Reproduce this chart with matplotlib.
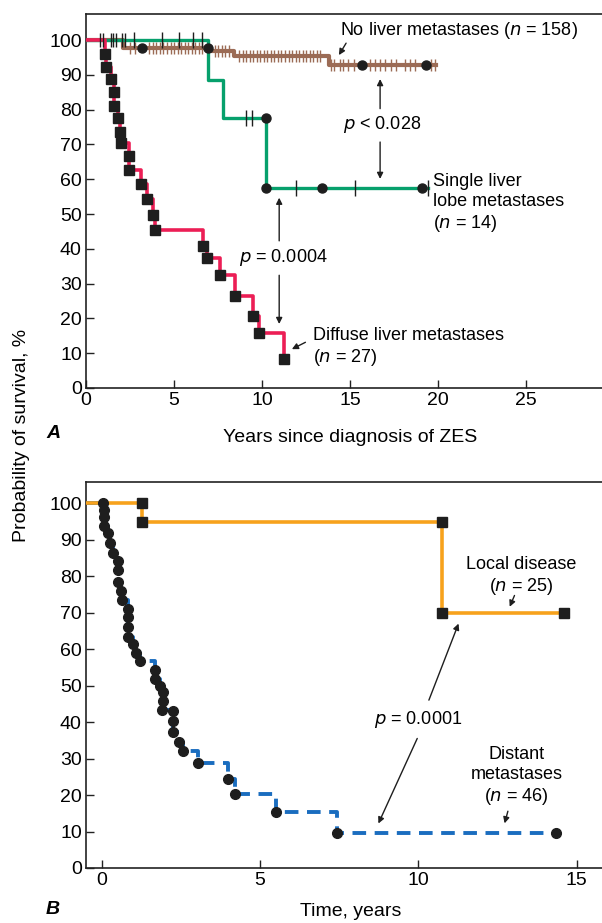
import matplotlib
matplotlib.use("Agg")
import matplotlib.pyplot as plt
import numpy as np

plt.rcParams['font.family'] = ['Liberation Sans', 'DejaVu Sans']

# ---------------- Panel A data ----------------
# No liver metastases (n = 158)
brown_t = [0.0, 2.1, 7.1, 8.4, 13.8, 19.9]
brown_s = [100, 97.7, 97.0, 95.4, 92.8, 92.8]
brown_dot_t = [3.2, 6.9, 15.7, 19.3]
brown_dot_s = [97.7, 97.7, 92.8, 92.8]
brown_cens_t = [2.5, 2.8, 3.6, 3.8, 4.0, 4.2, 4.4, 4.6, 4.8, 5.0, 5.2, 5.4, 5.6, 5.8, 6.0, 6.2, 6.4, 6.6,
                7.3, 7.5, 7.7, 7.9, 8.1,
                8.7, 8.9, 9.1, 9.3, 9.5, 9.7, 9.9, 10.1, 10.3, 10.5, 10.7, 10.9, 11.1, 11.3, 11.5,
                11.7, 11.9, 12.1, 12.3, 12.5, 12.7, 12.9, 13.1, 13.3,
                13.9, 14.1, 14.4, 14.6, 14.9, 15.2, 16.1, 16.4, 16.7, 17.0, 17.3, 17.6, 18.1, 18.4, 18.7, 19.6, 19.8]
brown_cens_s = [97.7] * 18 + [97.0] * 5 + [95.4] * 24 + [92.8] * 17
top_cens_t = [0.8, 0.95, 1.4, 1.55, 1.7, 2.05, 2.2]

# Single liver lobe metastases (n = 14)
green_t = [0.0, 6.9, 7.8, 10.2, 19.4]
green_s = [100, 88.5, 77.6, 57.5, 57.5]
green_dot_t = [10.2, 10.2, 13.4, 19.1]
green_dot_s = [77.6, 57.5, 57.5, 57.5]
green_cens_t = [2.7, 4.3, 5.3, 6.1, 6.6, 9.1, 9.4, 11.9, 15.3, 19.4]
green_cens_s = [100, 100, 100, 100, 100, 77.6, 77.6, 57.5, 57.5, 57.5]

# Diffuse liver metastases (n = 27)
red_t = [1.08, 1.14, 1.42, 1.61, 1.61, 1.80, 1.93, 1.99, 2.42, 2.42, 3.10, 3.48, 3.83, 3.94,
         6.67, 6.86, 7.61, 8.47, 9.50, 9.85, 11.27]
red_s = [95.9, 92.3, 88.7, 85.0, 81.0, 77.5, 73.7, 70.3, 66.7, 62.6, 58.5, 54.4, 49.7, 45.4,
         40.9, 37.3, 32.5, 26.5, 20.7, 15.7, 8.2]

# ---------------- Panel B data ----------------
# Local disease (n = 25)
orange_t = [1.26, 1.26, 10.75, 10.75, 14.6]
orange_s = [100, 94.7, 94.7, 69.8, 69.8]

# Distant metastases (n = 46)
blue_t = [0.04, 0.07, 0.07, 0.07, 0.20, 0.25, 0.35, 0.50, 0.50, 0.50, 0.59, 0.64, 0.83, 0.83, 0.83,
          0.83, 0.97, 1.07, 1.22, 1.68, 1.68, 1.84, 1.94, 1.92, 1.90, 2.26, 2.26, 2.26, 2.43, 2.55,
          3.05, 3.97, 4.21, 5.51, 7.43, 14.34]
blue_s = [100.0, 98.2, 96.2, 93.8, 91.9, 89.1, 86.4, 84.1, 81.6, 78.4, 75.9, 73.4, 70.9, 68.7, 66.1,
          63.4, 61.3, 59.0, 56.7, 54.4, 51.7, 49.9, 48.3, 45.8, 43.3, 43.0, 40.4, 37.2, 34.6, 32.1,
          28.9, 24.5, 20.4, 15.4, 9.7, 9.7]

yticks = list(range(0, 101, 10))
xticksA = [0, 5, 10, 15, 20, 25]
xticksB = [0, 5, 10, 15]

BROWN = '#9b6b55'
GREEN = '#06a06c'
RED = '#ec1e55'
ORANGE = '#f7a21c'
BLUE = '#1a6dbf'
BLK = '#1e1e1e'
FS = 13
FSL = 14

fig = plt.figure(figsize=(6.02, 9.23), dpi=100)
axA = fig.add_axes([86/602, 1-388/923, 1-86/602, (388-14)/923])
axB = fig.add_axes([86/602, 1-868/923, 1-86/602, (868-482)/923])

for ax in (axA, axB):
    ax.spines['right'].set_visible(False)
    for s in ('left', 'bottom', 'top'):
        ax.spines[s].set_linewidth(1.2)
        ax.spines[s].set_color('#222222')
    ax.tick_params(direction='in', length=6, width=1.0, labelsize=FSL, color='#222222', pad=3)
    ax.set_yticks(yticks)

# ---- Panel A ----
axA.set_xlim(0, 29.3)
axA.set_ylim(0, 107.5)
axA.set_xticks(xticksA)

axA.step(brown_t, brown_s, where='post', color=BROWN, lw=3.0, zorder=2)
axA.plot(brown_cens_t, brown_cens_s, ls='none', marker='|', ms=9, mew=1.0, color=BROWN, zorder=2)
axA.plot(top_cens_t, [100] * len(top_cens_t), ls='none', marker='|', ms=10, mew=1.0, color=BLK, zorder=4)
axA.plot(brown_dot_t, brown_dot_s, ls='none', marker='o', ms=6.5, color=BLK, zorder=5)

axA.step(green_t, green_s, where='post', color=GREEN, lw=2.4, zorder=3)
axA.plot(green_cens_t, green_cens_s, ls='none', marker='|', ms=11, mew=1.0, color=BLK, zorder=4)
axA.plot(green_dot_t, green_dot_s, ls='none', marker='o', ms=6.5, color=BLK, zorder=5)

axA.step([0] + red_t, [100] + red_s, where='post', color=RED, lw=2.6, zorder=3)
axA.plot(red_t, red_s, ls='none', marker='s', ms=7.5, color=BLK, zorder=5)

axA.text(14.45, 102.8, 'No liver metastases ($\\mathit{n}$ = 158)', fontsize=FS, va='center', ha='left')
axA.annotate('', xy=(14.28, 95.0), xytext=(14.85, 99.8),
             arrowprops=dict(arrowstyle='-|>', color=BLK, lw=1.0, mutation_scale=9))
axA.text(16.8, 75.6, '$\\mathit{p}$ < 0.028', fontsize=FS, va='center', ha='center')
axA.annotate('', xy=(16.7, 89.6), xytext=(16.7, 79.5),
             arrowprops=dict(arrowstyle='-|>', color=BLK, lw=1.0, mutation_scale=9))
axA.annotate('', xy=(16.7, 59.3), xytext=(16.7, 71.5),
             arrowprops=dict(arrowstyle='-|>', color=BLK, lw=1.0, mutation_scale=9))
axA.text(19.7, 53.0, 'Single liver\nlobe metastases\n($\\mathit{n}$ = 14)', fontsize=FS,
         va='center', ha='left', linespacing=1.2)
axA.text(11.2, 37.4, '$\\mathit{p}$ = 0.0004', fontsize=FS, va='center', ha='center')
axA.annotate('', xy=(10.97, 55.5), xytext=(10.97, 41.5),
             arrowprops=dict(arrowstyle='-|>', color=BLK, lw=1.0, mutation_scale=9))
axA.annotate('', xy=(10.97, 17.6), xytext=(10.97, 33.2),
             arrowprops=dict(arrowstyle='-|>', color=BLK, lw=1.0, mutation_scale=9))
axA.text(12.9, 11.7, 'Diffuse liver metastases\n($\\mathit{n}$ = 27)', fontsize=FS,
         va='center', ha='left', linespacing=1.2)
axA.annotate('', xy=(11.55, 10.8), xytext=(12.6, 13.5),
             arrowprops=dict(arrowstyle='-|>', color=BLK, lw=1.0, mutation_scale=9))

# ---- Panel B ----
axB.set_xlim(-0.5, 15.8)
axB.set_ylim(0, 105.8)
axB.set_xticks(xticksB)

axB.step([-0.5] + orange_t, [100] + orange_s, where='post', color=ORANGE, lw=2.6, zorder=3)
axB.plot(orange_t, orange_s, ls='none', marker='s', ms=7.5, color=BLK, zorder=5)

axB.step([-0.5] + blue_t, [100] + blue_s, where='post', color=BLUE, lw=2.8,
         dashes=(3.5, 2.2), zorder=2)
axB.plot(blue_t, blue_s, ls='none', marker='o', ms=7, color=BLK, zorder=5)

axB.text(13.25, 80.0, 'Local disease\n($\\mathit{n}$ = 25)', fontsize=FS, va='center',
         ha='center', linespacing=1.2)
axB.annotate('', xy=(12.85, 70.9), xytext=(13.07, 75.4),
             arrowprops=dict(arrowstyle='-|>', color=BLK, lw=1.0, mutation_scale=9))
axB.text(10.0, 40.6, '$\\mathit{p}$ = 0.0001', fontsize=FS, va='center', ha='center')
axB.annotate('', xy=(11.3, 67.7), xytext=(10.3, 45.3),
             arrowprops=dict(arrowstyle='-|>', color=BLK, lw=1.0, mutation_scale=9))
axB.annotate('', xy=(8.7, 11.5), xytext=(10.0, 36.2),
             arrowprops=dict(arrowstyle='-|>', color=BLK, lw=1.0, mutation_scale=9))
axB.text(13.1, 25.0, 'Distant\nmetastases\n($\\mathit{n}$ = 46)', fontsize=FS, va='center',
         ha='center', linespacing=1.2)
axB.annotate('', xy=(12.7, 11.5), xytext=(12.85, 16.3),
             arrowprops=dict(arrowstyle='-|>', color=BLK, lw=1.0, mutation_scale=9))

# ---- Figure-level text ----
fig.text(350/602, 1-437/923, 'Years since diagnosis of ZES', fontsize=FSL, ha='center', va='center')
fig.text(351/602, 1-912/923, 'Time, years', fontsize=FSL, ha='center', va='center')
fig.text(22/602, 1-435/923, 'Probability of survival, %', fontsize=FSL, ha='center', va='center',
         rotation=90)
fig.text(46/602, 1-433/923, 'A', fontsize=FSL, ha='left', va='center', fontweight='bold',
         fontstyle='italic')
fig.text(46/602, 1-910/923, 'B', fontsize=FSL, ha='left', va='center', fontweight='bold',
         fontstyle='italic')

fig.savefig('out.png', dpi=100)
